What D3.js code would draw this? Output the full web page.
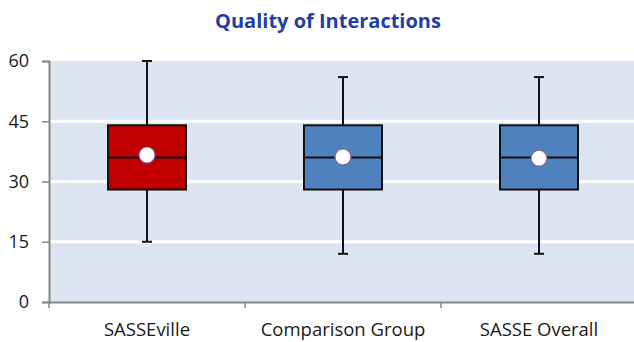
<!DOCTYPE html>
<html>
<head>
<meta charset="utf-8">
<script src="https://cdn.jsdelivr.net/npm/d3@7/dist/d3.min.js"></script>
<style>
  body { margin: 0; background: #fff; }
  text { font-family: "Open Sans", "Liberation Sans", sans-serif; }
</style>
</head>
<body>
<svg width="634" height="342"></svg>
<script>
  // chart data
  const groups = ["SASSEville", "Comparison Group", "SASSE Overall"];
  const mins = [15, 12, 12];
  const q1s = [28, 28, 28];
  const medians = [36, 36, 36];
  const q3s = [44, 44, 44];
  const maxs = [60, 56, 56];
  const means = [36.6, 36.1, 35.8];
  const boxColors = ["#C00000", "#4F81BD", "#4F81BD"];
  const yTicks = [0, 15, 30, 45, 60];

  const margin = {top: 61, right: -3, bottom: 40, left: 49};
  const svg = d3.select("svg");
  const width = +svg.attr("width") - margin.left - margin.right;
  const height = +svg.attr("height") - margin.top - margin.bottom;

  const x = d3.scaleBand().domain(groups).range([0, width]);
  const y = d3.scaleLinear().domain([0, 60]).range([height, 0]);

  const g = svg.append("g")
    .attr("transform", "translate(" + margin.left + "," + margin.top + ")");

  // plot background
  g.append("rect")
    .attr("x", 0).attr("y", 0)
    .attr("width", width).attr("height", height)
    .attr("fill", "#DCE6F2");

  // gridlines
  g.selectAll(".grid")
    .data(yTicks.filter(d => d > 0 && d < 60))
    .enter().append("line")
      .attr("x1", 0).attr("x2", width)
      .attr("y1", d => y(d)).attr("y2", d => y(d))
      .attr("stroke", "#fff")
      .attr("stroke-width", 3);

  // y axis
  const yAxis = g.append("g")
    .call(d3.axisLeft(y).tickValues(yTicks).tickSize(7).tickPadding(13));
  yAxis.select(".domain").attr("stroke", "#868686").attr("stroke-width", 2);
  yAxis.selectAll(".tick line").attr("stroke", "#868686").attr("stroke-width", 1.5);
  yAxis.selectAll("text").attr("font-size", 18).attr("fill", "#1a1a1a")
    .style("font-family", "'Open Sans', sans-serif");

  // x axis: ticks on category boundaries
  const xAxis = g.append("g")
    .attr("transform", "translate(0," + height + ")")
    .call(d3.axisBottom(x).tickSize(0).tickPadding(21));
  xAxis.select(".domain").attr("stroke", "#868686").attr("stroke-width", 2);
  xAxis.selectAll("text").attr("font-size", 18.5).attr("fill", "#1a1a1a")
    .style("font-family", "'Open Sans', sans-serif");
  g.selectAll(".xtick")
    .data(groups)
    .enter().append("line")
      .attr("x1", d => x(d)).attr("x2", d => x(d))
      .attr("y1", height).attr("y2", height + 6)
      .attr("stroke", "#868686")
      .attr("stroke-width", 1.5);

  // boxes
  const boxW = 78;
  const capW = 10;
  const box = g.selectAll(".box")
    .data(groups)
    .enter().append("g")
      .attr("transform", d => "translate(" + (x(d) + x.bandwidth() / 2) + ",0)");

  box.append("line")
    .attr("y1", (d, i) => y(maxs[i])).attr("y2", (d, i) => y(mins[i]))
    .attr("stroke", "#111").attr("stroke-width", 2);
  box.append("line")
    .attr("x1", -capW / 2).attr("x2", capW / 2)
    .attr("y1", (d, i) => y(maxs[i])).attr("y2", (d, i) => y(maxs[i]))
    .attr("stroke", "#111").attr("stroke-width", 2);
  box.append("line")
    .attr("x1", -capW / 2).attr("x2", capW / 2)
    .attr("y1", (d, i) => y(mins[i])).attr("y2", (d, i) => y(mins[i]))
    .attr("stroke", "#111").attr("stroke-width", 2);
  box.append("rect")
    .attr("x", -boxW / 2)
    .attr("y", (d, i) => y(q3s[i]))
    .attr("width", boxW)
    .attr("height", (d, i) => y(q1s[i]) - y(q3s[i]))
    .attr("fill", (d, i) => boxColors[i])
    .attr("stroke", "#111").attr("stroke-width", 2);
  box.append("line")
    .attr("x1", -boxW / 2).attr("x2", boxW / 2)
    .attr("y1", (d, i) => y(medians[i])).attr("y2", (d, i) => y(medians[i]))
    .attr("stroke", "#111").attr("stroke-width", 2);
  box.append("circle")
    .attr("cy", (d, i) => y(means[i]))
    .attr("r", 8)
    .attr("fill", "#fff")
    .attr("stroke", "#8064A2").attr("stroke-width", 1.2);

  // title
  svg.append("text")
    .attr("x", 328).attr("y", 28)
    .attr("text-anchor", "middle")
    .attr("font-size", 20)
    .attr("font-weight", "bold")
    .attr("fill", "#1F3FA6")
    .style("font-family", "'Open Sans', sans-serif")
    .text("Quality of Interactions");
</script>
</body>
</html>
